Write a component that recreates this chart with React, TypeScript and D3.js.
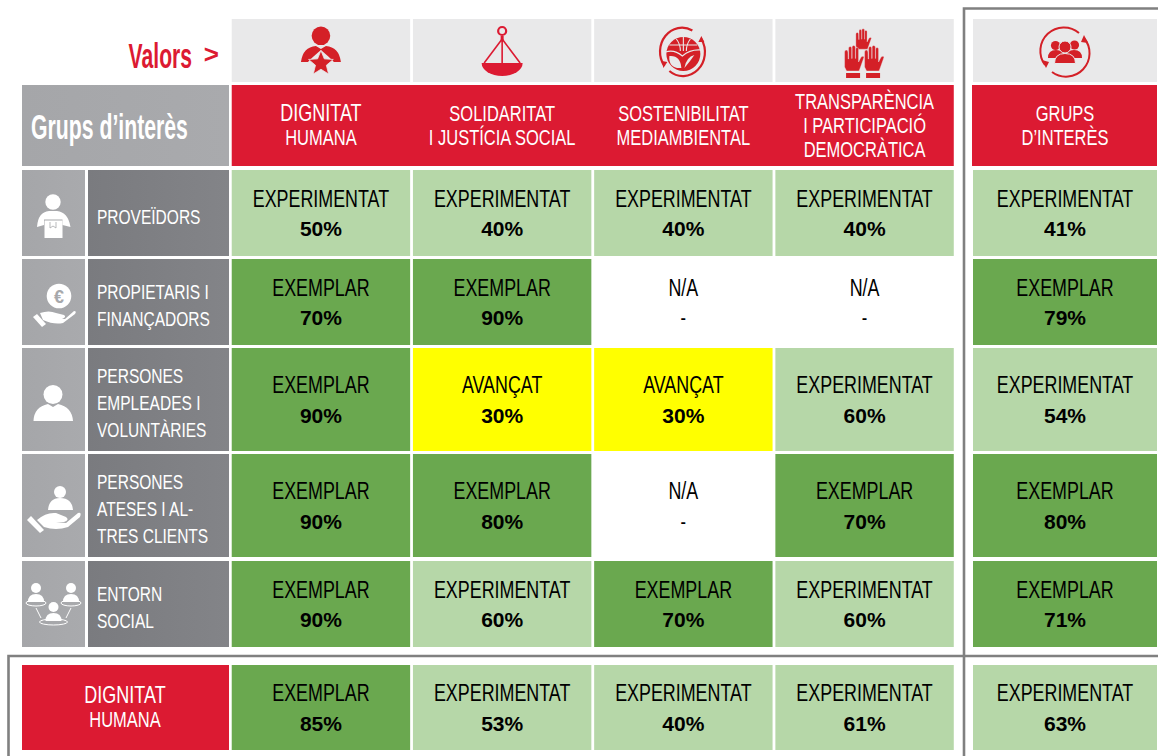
import React from "react";
import * as d3 from "d3";

const columns = ["DIGNITAT HUMANA", "SOLIDARITAT I JUSTÍCIA SOCIAL", "SOSTENIBILITAT MEDIAMBIENTAL", "TRANSPARÈNCIA I PARTICIPACIÓ DEMOCRÀTICA"];
const columnLines = [["DIGNITAT", "HUMANA"], ["SOLIDARITAT", "I JUSTÍCIA SOCIAL"], ["SOSTENIBILITAT", "MEDIAMBIENTAL"], ["TRANSPARÈNCIA", "I PARTICIPACIÓ", "DEMOCRÀTICA"]];
const rowLines = [["PROVEÏDORS"], ["PROPIETARIS I", "FINANÇADORS"], ["PERSONES", "EMPLEADES I", "VOLUNTÀRIES"], ["PERSONES", "ATESES I AL-", "TRES CLIENTS"], ["ENTORN", "SOCIAL"]];
const groups = ["Proveïdors", "Propietaris", "Empleades", "Ateses", "Entorn"];
const levels = [
  ["EXPERIMENTAT", "EXPERIMENTAT", "EXPERIMENTAT", "EXPERIMENTAT"],
  ["EXEMPLAR", "EXEMPLAR", "N/A", "N/A"],
  ["EXEMPLAR", "AVANÇAT", "AVANÇAT", "EXPERIMENTAT"],
  ["EXEMPLAR", "EXEMPLAR", "N/A", "EXEMPLAR"],
  ["EXEMPLAR", "EXPERIMENTAT", "EXEMPLAR", "EXPERIMENTAT"],
];
const scores = [
  ["50%", "40%", "40%", "40%"],
  ["70%", "90%", "-", "-"],
  ["90%", "30%", "30%", "60%"],
  ["90%", "80%", "-", "70%"],
  ["90%", "60%", "70%", "60%"],
];
const groupTotalsLevel = ["EXPERIMENTAT", "EXEMPLAR", "EXPERIMENTAT", "EXEMPLAR", "EXEMPLAR"];
const groupTotalsScore = ["41%", "79%", "54%", "80%", "71%"];
const valueTotalsLevel = ["EXEMPLAR", "EXPERIMENTAT", "EXPERIMENTAT", "EXPERIMENTAT"];
const valueTotalsScore = ["85%", "53%", "40%", "61%"];
const grandLevel = "EXPERIMENTAT";
const grandScore = "63%";

const levelFill = d3.scaleOrdinal<string, string>()
  .domain(["EXPERIMENTAT", "EXEMPLAR", "AVANÇAT", "N/A"])
  .range(["#b6d7a8", "#6aa84f", "#ffff00", "#ffffff"]);

const RED = "#dc1a32";
const ICON = "#d42027";
const PANEL = "#e9e9ea";
const SANS = "'Liberation Sans',Arial,sans-serif";

const x = d3.scaleBand<number>().domain([0, 1, 2, 3]).range([231, 954.5]).paddingInner(0.0155).paddingOuter(0.004);
const rowTop = [170, 259, 348, 454, 561];
const rowBottom = [256, 345, 451, 557, 647];

function T({ x, y, size, fill = "#000", sx = 0.745, weight = 400, anchor = "middle", children }: any) {
  return (
    <text transform={`translate(${x},${y}) scale(${sx},1)`} fontFamily={SANS} fontSize={size} fontWeight={weight} fill={fill} textAnchor={anchor}>
      {children}
    </text>
  );
}

function Cell({ x0, w, y0, y1, level, score }: any) {
  const cx = x0 + w / 2;
  const cy = (y0 + y1) / 2;
  const dash = score === "-";
  return (
    <g>
      <rect x={x0} y={y0} width={w} height={y1 - y0} fill={levelFill(level)} />
      <T x={cx} y={cy - 6.5} size={24}>{level}</T>
      <T x={cx} y={cy + 23} size={dash ? 22 : 21} sx={dash ? 0.75 : 1} weight={dash ? 400 : 700}>{score}</T>
    </g>
  );
}

const star = (cx: number, cy: number, r: number) =>
  d3.range(10).map((i) => {
    const a = -Math.PI / 2 + (i * Math.PI) / 5;
    const rr = i % 2 ? r * 0.44 : r;
    return `${cx + rr * Math.cos(a)},${cy + rr * Math.sin(a)}`;
  }).join(" ");

const hand = (cx: number, by: number, s: number, cuff: boolean) => (
  <g transform={`translate(${cx},${by}) scale(${s},${s})`} fill={ICON} stroke={PANEL} strokeWidth={0.4}>
    <path d="M-9 -5 L-9 -20 Q-9 -22 -7.3 -22 Q-5.6 -22 -5.6 -20 L-5.4 -13 L-5 -13 L-5 -24 Q-5 -25.5 -3.4 -25.5 Q-1.8 -25.5 -1.8 -24 L-1.8 -13.5 L-1.5 -13.5 L-1.5 -25 Q-1.5 -26.5 0 -26.5 Q1.8 -26.5 1.8 -25 L1.8 -13.5 L2 -13.5 L2 -23 Q2 -24.5 3.5 -24.5 Q5 -24.5 5 -23 L5 -10 L7.5 -15 Q9.5 -16.5 10.5 -15 L7 -5 L5.5 -1 L-7 -1 Z" />
    {cuff && <rect x={-7.5} y={1} width={14} height={5} stroke="none" />}
  </g>
);

const IconDignity = ({ cx }: any) => (
  <g>
    <circle cx={cx} cy={35.8} r={9.3} fill={ICON} />
    <path d={`M${cx - 20} 62 Q${cx - 18} 47 ${cx - 5} 46 L${cx} 49 L${cx + 5} 46 Q${cx + 18} 47 ${cx + 20} 62 L${cx + 13} 62 L${cx + 8} 57 L${cx} 50 L${cx - 8} 57 L${cx - 13} 62 Z`} fill={ICON} />
    <polygon points={star(cx, 63.5, 13)} fill={ICON} stroke={PANEL} strokeWidth={0.8} />
  </g>
);

const IconScale = ({ cx }: any) => (
  <g fill="none" stroke={RED}>
    <circle cx={cx} cy={31} r={4} strokeWidth={2.2} />
    <rect x={cx - 1.5} y={36} width={3} height={4} fill={RED} stroke="none" />
    <path d={`M${cx} 38 L${cx} 63 M${cx} 39 L${cx - 18} 63 M${cx} 39 L${cx + 18} 63`} strokeWidth={1.6} />
    <path d={`M${cx - 20.5} 63 L${cx + 20.5} 63 A20.5 13 0 0 1 ${cx - 20.5} 63 Z`} fill={RED} stroke="none" />
  </g>
);

const IconEco = ({ cx }: any) => (
  <g>
    <g fill="none" stroke={ICON} strokeWidth={2.2}>
      <path d={`M${cx + 9} 30.5 A22 24 0 0 0 ${cx - 19} 66`} />
      <path d={`M${cx - 14} 71 A22 24 0 0 0 ${cx + 18} 39`} />
    </g>
    <path d={`M${cx - 21.5} 61 L${cx - 16} 62 L${cx - 20} 68 Z M${cx + 21} 42 L${cx + 15} 42 L${cx + 18} 36 Z`} fill={ICON} />
    <circle cx={cx} cy={54} r={17} fill={ICON} />
    <path d={`M${cx} 37 L${cx} 51 M${cx - 7} 39 Q${cx - 3} 44 ${cx - 3} 51 M${cx + 7} 39 Q${cx + 3} 44 ${cx + 3} 51 M${cx - 14} 45 L${cx + 14} 45`} stroke={PANEL} strokeWidth={1.1} fill="none" />
    <path d={`M${cx - 18} 52 Q${cx - 9} 49 ${cx - 1} 56 Q${cx + 7} 49 ${cx + 18} 50`} stroke={PANEL} strokeWidth={1.2} fill="none" />
    <path d={`M${cx - 2} 68 Q${cx - 15} 69 ${cx - 14} 56 Q${cx - 3} 55 ${cx - 2} 68 Z`} fill={PANEL} />
    <path d={`M${cx + 1} 68 Q${cx + 3} 57 ${cx + 11} 55 Q${cx + 7} 61 ${cx + 1} 68 Z`} fill={PANEL} />
  </g>
);

const IconHands = ({ cx }: any) => (
  <g>
    {hand(cx - 1.5, 50, 0.8, false)}
    {hand(cx - 11, 72, 1, true)}
    {hand(cx + 9, 72, 1, true)}
  </g>
);

const IconGroup = ({ cx }: any) => (
  <g>
    <g fill="none" stroke={ICON} strokeWidth={2}>
      <path d={`M${cx + 14} 33 A23.5 23.5 0 0 0 ${cx - 20} 65`} />
      <path d={`M${cx - 13} 72 A23.5 23.5 0 0 0 ${cx + 19} 38`} />
    </g>
    <path d={`M${cx - 23} 60 L${cx - 16} 62 L${cx - 19} 68 Z M${cx + 23} 43 L${cx + 16} 42 L${cx + 19} 35 Z`} fill={ICON} />
    <g fill={ICON}>
      <circle cx={cx - 9.5} cy={45.5} r={4.6} />
      <circle cx={cx + 9.5} cy={45} r={4.6} />
      <path d={`M${cx - 17} 58 Q${cx - 17} 50 ${cx - 9} 50 Q${cx - 1} 50 ${cx - 1} 58 Z M${cx + 1} 58 Q${cx + 1} 50 ${cx + 9} 50 Q${cx + 17} 50 ${cx + 17} 58 Z`} />
      <circle cx={cx} cy={47} r={6} stroke={PANEL} strokeWidth={1} />
      <path d={`M${cx - 10.5} 63.5 Q${cx - 10.5} 53.5 ${cx} 53.5 Q${cx + 10.5} 53.5 ${cx + 10.5} 63.5 Z`} stroke={PANEL} strokeWidth={1} />
    </g>
  </g>
);

const W = "#ffffff";
const IconSupplier = () => (
  <g>
    <circle cx={53} cy={202} r={7.7} fill={W} />
    <path d="M37 227 Q38 212 49 211 L57 211 Q68 212 70.5 227 L62.5 225 L62.5 219.5 L44 219.5 L44 225 Z" fill={W} />
    <rect x={44.5} y={220.5} width={18} height={17.5} fill={W} />
    <path d="M50 222 L50 228 L53 226 L56 228 L56 222" fill="none" stroke="#a7a8ab" strokeWidth={0.8} />
  </g>
);
const IconOwner = () => (
  <g>
    <circle cx={59} cy={296} r={12.3} fill={W} />
    <text x={59} y={302.5} textAnchor="middle" fontFamily={SANS} fontWeight={700} fontSize={18} fill="#a7a8ab">€</text>
    <path d="M40 313 Q49 310 56 313 L64 315 Q67 317 62 319 L55 319 L65 319 L74 311 Q77 311 75 314 L63 323 Q54 325 43 320 Z" fill={W} />
    <path d="M33 317 L37 314 L46 324 L42 327 Z" fill={W} />
  </g>
);
const IconEmployee = () => (
  <g fill={W}>
    <circle cx={53} cy={394.5} r={9.5} />
    <path d="M33.5 421 Q34 407 48 404 L53 407 L58 404 Q72 407 73 421 Z" />
  </g>
);
const IconClient = () => (
  <g fill={W}>
    <circle cx={60} cy={492} r={6} />
    <path d="M48 510 Q49 498 60 498 Q72 498 73 510 Z" />
    <path d="M37 520 Q46 512 56 513 L66 517 Q70 520 64 522 L56 522 L66 523 L78 513 Q82 512 80 517 L68 527 Q56 531 44 527 Z" />
    <path d="M27 520 L31 516 L44 530 L40 533 Z" />
  </g>
);
const IconSocial = () => (
  <g>
    {[[36, 588, 10], [71, 588, 10], [53.5, 607, 14]].map(([px, py, rx], i) => (
      <g key={i}>
        <circle cx={px} cy={py} r={5} fill={W} />
        <path d={`M${px - 8} ${py + 14} Q${px - 8} ${py + 6} ${px} ${py + 6} Q${px + 8} ${py + 6} ${px + 8} ${py + 14} Z`} fill={W} />
        <ellipse cx={px} cy={py + 15} rx={rx} ry={3} fill="none" stroke={W} strokeWidth={1} />
      </g>
    ))}
    <path d="M36 608 L41 618 M71 608 L66 618" stroke={W} strokeWidth={1} />
  </g>
);

const leftIcons = [IconSupplier, IconOwner, IconEmployee, IconClient, IconSocial];
const topIcons = [IconDignity, IconScale, IconEco, IconHands];

export default function App() {
  const bw = x.bandwidth();
  const totalX = 973;
  const totalW = 184;
  return (
    <svg width={1158} height={756} viewBox="0 0 1158 756" style={{ position: "absolute", left: 0, top: 0, background: "#fff" }}>
      <defs>
        <linearGradient id="g1" x1="0" x2="1" y1="0" y2="0">
          <stop offset="0" stopColor="#a5a6a9" />
          <stop offset="1" stopColor="#a9aaad" />
        </linearGradient>
        <linearGradient id="g2" x1="0" x2="1" y1="0" y2="0">
          <stop offset="0" stopColor="#7a7b7f" />
          <stop offset="1" stopColor="#838488" />
        </linearGradient>
      </defs>

      <path d="M964 756 L964 8.5 L1158 8.5" fill="none" stroke="#808080" strokeWidth={2.6} />
      <path d="M8.5 756 L8.5 656 L1158 656" fill="none" stroke="#808080" strokeWidth={2.6} />

      <T x={192} y={68} size={36} fill={RED} weight={700} sx={0.587} anchor="end">Valors</T>
      <T x={219} y={63} size={26} fill={RED} weight={700} sx={1} anchor="end">&gt;</T>

      {columns.map((c, i) => {
        const I = topIcons[i];
        return (
          <g key={c}>
            <rect x={x(i)} y={19} width={bw} height={63} fill={PANEL} />
            <I cx={x(i)! + bw / 2} />
          </g>
        );
      })}
      <rect x={totalX} y={19} width={totalW} height={63} fill={PANEL} />
      <IconGroup cx={1065} />

      <rect x={22} y={85} width={207} height={81} fill="url(#g1)" />
      <T x={31} y={139} size={36} fill="#fff" weight={700} sx={0.59} anchor="start">Grups d’interès</T>
      <rect x={x(0)} y={85} width={x(3)! + bw - x(0)!} height={81} fill={RED} />
      {columnLines.map((lines, i) => {
        const cx = x(i)! + bw / 2;
        const y0 = lines.length === 3 ? 109 : 121;
        return (
          <g key={i}>
            {lines.map((l, j) => (
              <T key={l} x={cx} y={y0 + j * 24} size={i === 0 && j === 0 ? 24 : 22} fill="#fff" sx={0.75}>{l}</T>
            ))}
          </g>
        );
      })}
      <rect x={totalX - 1} y={85} width={totalW + 1} height={81} fill={RED} />
      <T x={1065} y={121} size={22} fill="#fff" sx={0.75}>GRUPS</T>
      <T x={1065} y={145} size={22} fill="#fff" sx={0.75}>D’INTERÈS</T>

      {groups.map((g, r) => {
        const y0 = rowTop[r];
        const y1 = rowBottom[r];
        const cy = (y0 + y1) / 2;
        const I = leftIcons[r];
        const lines = rowLines[r];
        return (
          <g key={g}>
            <rect x={22} y={y0} width={63} height={y1 - y0} fill="url(#g1)" />
            <rect x={88} y={y0} width={141} height={y1 - y0} fill="url(#g2)" />
            <I />
            {lines.map((l, j) => (
              <T key={l} x={97} y={cy + 10.5 + (j - (lines.length - 1) / 2) * 26.7} size={20.5} fill="#fff" sx={0.757} anchor="start">{l}</T>
            ))}
            {levels[r].map((lv, c) => (
              <Cell key={c} x0={x(c)} w={bw} y0={y0} y1={y1} level={lv} score={scores[r][c]} />
            ))}
            <Cell x0={totalX} w={totalW} y0={y0} y1={y1} level={groupTotalsLevel[r]} score={groupTotalsScore[r]} />
          </g>
        );
      })}

      <rect x={22} y={665} width={207} height={85} fill={RED} />
      <T x={125} y={703} size={24} fill="#fff" sx={0.75}>DIGNITAT</T>
      <T x={125} y={727} size={22} fill="#fff" sx={0.75}>HUMANA</T>
      {valueTotalsLevel.map((lv, c) => (
        <Cell key={c} x0={x(c)} w={bw} y0={665} y1={750} level={lv} score={valueTotalsScore[c]} />
      ))}
      <Cell x0={totalX} w={totalW} y0={665} y1={750} level={grandLevel} score={grandScore} />
    </svg>
  );
}
